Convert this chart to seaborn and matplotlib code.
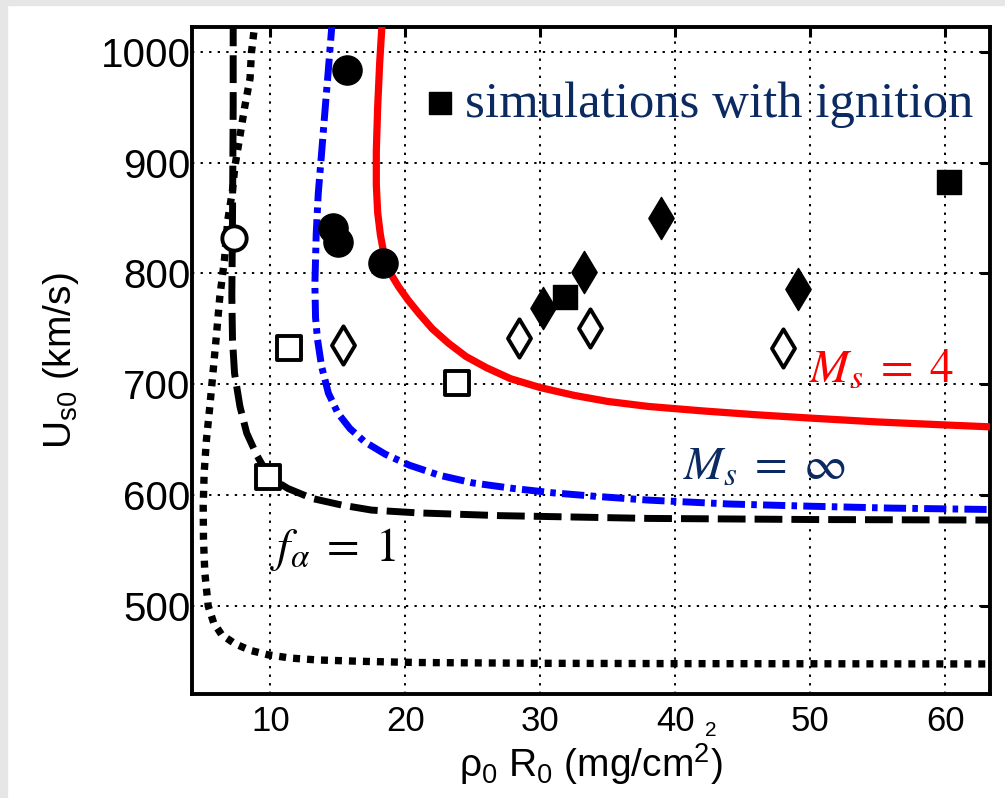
import matplotlib
matplotlib.use("Agg")
import matplotlib.pyplot as plt
import seaborn as sns
from matplotlib.patches import Rectangle

# ---------------- data ----------------
# f_alpha = 1 (black dashed)
fa_x = [7.25, 7.25, 7.2, 7.15, 7.2, 7.35, 7.75, 8.25, 9.0, 9.8, 10.5, 11.3, 13.1, 15.3, 17.5, 20.9, 27.0, 38.0, 50.0, 63.5]
fa_y = [1030, 950, 850, 780, 740, 710, 680, 656, 636, 619, 612, 606, 597, 591, 586.5, 584, 581.5, 579, 578, 577.5]

# black dotted curve
dot_x = [8.9, 8.6, 8.5, 8.1, 7.74, 7.37, 7.2, 6.85, 6.6, 6.26, 6.0, 5.75, 5.52, 5.27, 5.1, 5.03, 5.05, 5.15, 5.4, 5.8, 6.4, 7.37, 8.5, 9.82, 11.5, 13.5, 17.0, 20.9, 30.0, 40.0, 63.5]
dot_y = [1030, 999, 976, 950, 923, 896, 875, 848, 812, 779, 743, 710, 680, 650, 620, 590, 560, 530, 500, 485, 474, 466, 460, 456, 453, 451.3, 450, 449, 448.3, 448, 447.7]

# M_s = infinity (blue dash-dot)
minf_x = [14.6, 14.3, 14.05, 13.8, 13.55, 13.4, 13.3, 13.35, 13.5, 13.8, 14.3, 15.0, 15.9, 17.0, 18.5, 20.3, 22.5, 25.0, 28.0, 31.0, 34.0, 38.0, 44.0, 50.0, 56.0, 63.5]
minf_y = [1030, 984, 947, 909, 872, 836, 790, 760, 740, 716, 692, 674, 660, 648, 637, 627, 618, 611, 606, 602, 599, 595.5, 592, 590, 588.3, 587]

# M_s = 4 (red solid)
m4_x = [18.3, 18.1, 17.95, 17.85, 17.85, 17.95, 18.15, 18.45, 18.9, 19.5, 20.2, 21.0, 22.0, 23.2, 24.5, 26.0, 27.8, 30.0, 32.5, 35.0, 38.0, 42.0, 46.0, 50.0, 55.0, 60.0, 63.5]
m4_y = [1030, 990, 950, 910, 880, 855, 835, 815, 800, 788, 776, 764, 750, 737, 725, 715, 705, 697, 690, 684.5, 680, 676, 672.5, 669.5, 666, 663.3, 661.5]

# markers
fcirc_x = [15.65, 14.66, 15.03, 18.36]
fcirc_y = [983.5, 840.7, 828.6, 809]
ocirc_x = [7.32]
ocirc_y = [831.7]
osq_x = [11.4, 23.8, 9.84]
osq_y = [733, 701, 616]
fsq_x = [31.8, 60.3]
fsq_y = [779, 882.5]
odia_x = [15.4, 28.4, 33.7, 48.0]
odia_y = [735.4, 741.5, 750.5, 732.5]
fdia_x = [30.2, 33.2, 38.9, 49.1]
fdia_y = [768.5, 801.5, 850, 786]

xticks = [10, 20, 30, 40, 50, 60]
yticks = [500, 600, 700, 800, 900, 1000]

# ---------------- style ----------------
sns.set_theme(style="white")
plt.rcParams["font.family"] = ["Liberation Sans", "DejaVu Sans"]
plt.rcParams["mathtext.fontset"] = "custom"
plt.rcParams["mathtext.rm"] = "Liberation Sans"
plt.rcParams["mathtext.it"] = "Liberation Sans:italic"
plt.rcParams["mathtext.bf"] = "Liberation Sans:bold"
for k in ["text.color", "axes.labelcolor", "xtick.color", "ytick.color", "axes.edgecolor"]:
    plt.rcParams[k] = "black"

fig = plt.figure(figsize=(10.05, 7.98), dpi=100)
fig.patch.set_facecolor("white")
# light gray frame strips (left and top)
fig.patches.append(Rectangle((0, 0), 7 / 1005, 1, transform=fig.transFigure, color="#e6e6e6", zorder=0))
fig.patches.append(Rectangle((0, 1 - 5 / 798), 1, 5 / 798, transform=fig.transFigure, color="#e6e6e6", zorder=0))

ax = fig.add_axes([192 / 1005, 1 - 694 / 798, (990 - 192) / 1005, (694 - 27) / 798])
ax.set_facecolor("white")

navy = "#0b2a62"
LW = 5.0

sns.lineplot(x=dot_x, y=dot_y, sort=False, estimator=None, ax=ax, color="black",
             linewidth=LW + 0.3, linestyle=(0, (0.95, 0.95)), zorder=3)
sns.lineplot(x=fa_x, y=fa_y, sort=False, estimator=None, ax=ax, color="black",
             linewidth=LW, linestyle=(0, (4.0, 1.3)), zorder=3)
sns.lineplot(x=minf_x, y=minf_y, sort=False, estimator=None, ax=ax, color="#0000ff",
             linewidth=LW, linestyle=(0, (3.2, 0.9, 0.8, 0.9)), zorder=3)
sns.lineplot(x=m4_x, y=m4_y, sort=False, estimator=None, ax=ax, color="#ff0000",
             linewidth=LW + 0.2, linestyle="-", zorder=3)

sns.scatterplot(x=fcirc_x, y=fcirc_y, ax=ax, marker="o", s=21 ** 2, color="black",
                edgecolor="black", linewidth=1, zorder=5)
sns.scatterplot(x=ocirc_x, y=ocirc_y, ax=ax, marker="o", s=17.5 ** 2, color="white",
                edgecolor="black", linewidth=2.8, zorder=5)
sns.scatterplot(x=osq_x, y=osq_y, ax=ax, marker="s", s=17.5 ** 2, color="white",
                edgecolor="black", linewidth=2.8, zorder=5)
sns.scatterplot(x=fsq_x, y=fsq_y, ax=ax, marker="s", s=17 ** 2, color="black",
                edgecolor="black", linewidth=1, zorder=5)
sns.scatterplot(x=odia_x, y=odia_y, ax=ax, marker="d", s=19.5 ** 2, color="white",
                edgecolor="black", linewidth=2.8, zorder=5)
sns.scatterplot(x=fdia_x, y=fdia_y, ax=ax, marker="d", s=21.5 ** 2, color="black",
                edgecolor="black", linewidth=1, zorder=5)

# legend-like annotation
sns.scatterplot(x=[22.6], y=[953.8], ax=ax, marker="s", s=15.5 ** 2, color="black",
                edgecolor="black", linewidth=1, zorder=5)
ax.text(24.4, 952, "simulations with ignition", color=navy, fontsize=36.5,
        family="Liberation Serif", va="center", ha="left", zorder=6)

ax.text(49.9, 713, r"$M_s\;=\;4$", color="#ff0000", fontsize=34, math_fontfamily="stix",
        va="center", ha="left", zorder=6)
ax.text(40.6, 626, r"$M_s\;=\;\infty$", color=navy, fontsize=34, math_fontfamily="stix",
        va="center", ha="left", zorder=6)
ax.text(10.0, 551, r"$f_\alpha\;=\;1$", color="black", fontsize=34, math_fontfamily="stix",
        va="center", ha="left", zorder=6)

ax.set_xlim(4.2, 63.3)
ax.set_ylim(420.6, 1022.3)
ax.set_xticks(xticks)
ax.set_yticks(yticks)
ax.set_xticklabels([str(v) for v in xticks], fontsize=25)
ax.set_yticklabels([str(v) for v in yticks], fontsize=29)
ax.tick_params(axis="both", direction="in", length=7, width=2.2, color="black",
               labelcolor="black", top=True, right=True)
ax.tick_params(axis="x", pad=8)
ax.tick_params(axis="y", pad=1)

ax.grid(True, color="black", linestyle=(0, (1.2, 3.2)), linewidth=1.4)
ax.set_axisbelow(True)
for sp in ax.spines.values():
    sp.set_visible(True)
    sp.set_color("black")
    sp.set_linewidth(2.8)

ax.set_xlabel("ρ$_{\\mathregular{0}}$ R$_{\\mathregular{0}}$ (mg/cm$^{\\mathregular{2}}$)",
              fontsize=28, labelpad=2, color="black")
ax.set_ylabel("U$_{\\mathregular{s0}}$ (km/s)", fontsize=28, labelpad=14, color="black")

# stray subscript "2" seen next to the 40 tick label
fig.text(711 / 1005, 1 - 731 / 798, "2", fontsize=15, ha="center", va="center", color="black")

fig.savefig("out.png", dpi=100)
